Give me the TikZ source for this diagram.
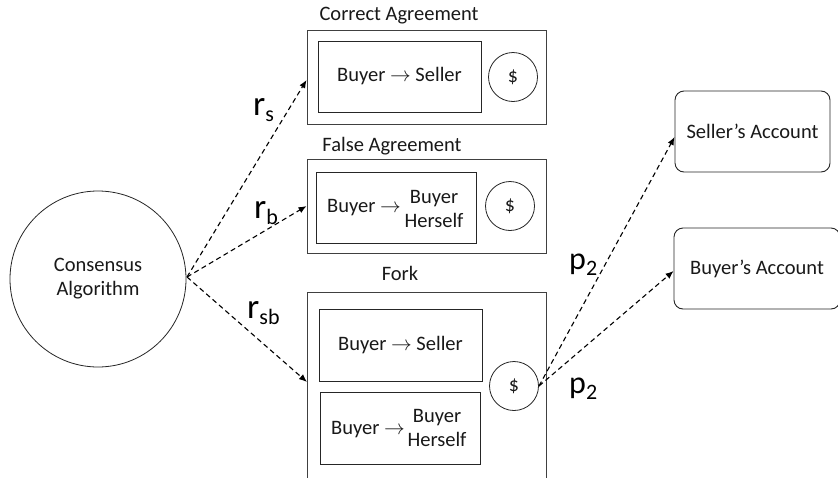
\documentclass[tikz,border=0pt]{standalone}
\usepackage{fontspec}
\setmainfont{Carlito}
\usetikzlibrary{arrows.meta}
\newcommand{\lblsub}[2]{#1\raisebox{-6pt}{\fontsize{22}{24}\selectfont #2}}
\begin{document}
\begin{tikzpicture}[x=1pt,y=-1pt,
  every node/.style={font=\fontsize{20.5}{24}\selectfont, text=black!90},
  outerbox/.style={draw=black!75, line width=0.9pt},
  innerbox/.style={draw=black!85, line width=0.9pt, inner sep=0pt},
  coin/.style={draw=black!85, circle, line width=0.8pt, minimum size=49pt, inner sep=0pt, font=\fontsize{20}{22}\selectfont},
  acct/.style={draw=black!85, rounded corners=9pt, line width=0.9pt, inner sep=0pt},
  flow/.style={dashed, dash pattern=on 5pt off 3.5pt, line width=1.1pt, -{Latex[length=8pt,width=6.5pt]}},
  rlbl/.style={font=\fontsize{35}{37}\selectfont, text=black, anchor=base west, inner sep=0pt},
  plbl/.style={font=\fontsize{32}{34}\selectfont, text=black, anchor=base west, inner sep=0pt},
]
\useasboundingbox (0,0) rectangle (838,477);
\fill[white] (0,0) rectangle (838,477);

% consensus
\node[draw=black!85, circle, line width=0.8pt, minimum size=176pt, inner sep=0pt, align=center] (cons) at (98,279) {Consensus\\Algorithm};
\coordinate (src) at (187,277);

% correct agreement
\node[outerbox, minimum width=239pt, minimum height=94pt, inner sep=0pt] (ca) at (426.5,77) {};
\node (catitle) at (399,16) {Correct Agreement};
\node[innerbox, minimum width=163pt, minimum height=71pt] (cain) at (399.5,76.5) {Buyer $\rightarrow$ Seller};
\node[coin] (cacoin) at (513,77) {\$};

% false agreement
\node[outerbox, minimum width=239pt, minimum height=94pt, inner sep=0pt] (fa) at (426.5,206) {};
\node (fatitle) at (392,146) {False Agreement};
\node[innerbox, minimum width=160pt, minimum height=71pt] (fain) at (396,207.5) {};
\node (fab) at (364,208) {Buyer $\rightarrow$};
\node[align=center] (fah) at (434,209) {Buyer\\Herself};
\node[coin] (facoin) at (510,206) {\$};

% fork
\draw[outerbox] (307,485) |- (546,292) -- (546,485);
\node (forktitle) at (400,273) {Fork};
\node[innerbox, minimum width=163pt, minimum height=72pt] (fk1) at (400.5,345) {Buyer $\rightarrow$ Seller};
\node[innerbox, minimum width=160pt, minimum height=72pt] (fk2) at (400,428) {};
\node (fk2b) at (368,430) {Buyer $\rightarrow$};
\node[align=center] (fk2h) at (437,428) {Buyer\\Herself};
\node[coin] (fkcoin) at (514,386) {\$};
\coordinate (coinr) at (539,386);

% accounts
\node[acct, minimum width=155pt, minimum height=81pt] (sa) at (752.5,131.5) {Seller’s Account};
\node[acct, minimum width=166pt, minimum height=81pt] (ba) at (757,268.5) {Buyer’s Account};

% arrows
\draw[flow] (src) -- (ca.west |- 0,80);
\draw[flow] (src) -- (fa.west |- 0,206);
\draw[flow] (src) -- (307,382);
\draw[flow] (coinr) -- (sa.west |- 0,137);
\draw[flow] (coinr) -- (ba.west |- 0,271);

% labels
\node[rlbl] (rs) at (253,115) {\lblsub{r}{s}};
\node[rlbl] (rb) at (254,218) {\lblsub{r}{b}};
\node[rlbl] (rsb) at (247,318) {\lblsub{r}{sb}};
\node[plbl] (p2a) at (569,269) {\lblsub{p}{2}};
\node[plbl] (p2b) at (569,393) {\lblsub{p}{2}};
\end{tikzpicture}
\end{document}
